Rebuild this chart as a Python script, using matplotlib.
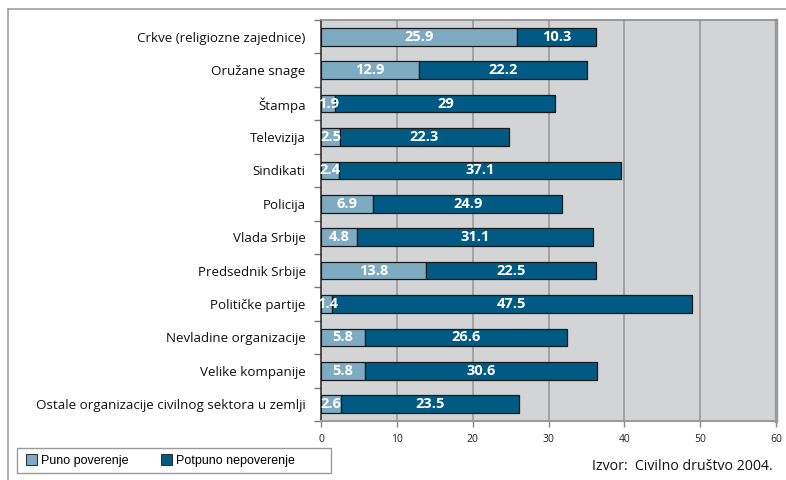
import matplotlib
matplotlib.use("Agg")
import matplotlib.pyplot as plt
import numpy as np
from matplotlib.patches import Patch, Rectangle

categories = ["Crkve (religiozne zajednice)", "Oružane snage", "Štampa", "Televizija",
              "Sindikati", "Policija", "Vlada Srbije", "Predsednik Srbije",
              "Političke partije", "Nevladine organizacije", "Velike kompanije",
              "Ostale organizacije civilnog sektora u zemlji"]
puno = [25.9, 12.9, 1.9, 2.5, 2.4, 6.9, 4.8, 13.8, 1.4, 5.8, 5.8, 2.6]
nepoverenje = [10.3, 22.2, 29, 22.3, 37.1, 24.9, 31.1, 22.5, 47.5, 26.6, 30.6, 23.5]
xticks = [0, 10, 20, 30, 40, 50, 60]
legend_labels = ["Puno poverenje", "Potpuno nepoverenje"]
source = "Izvor:  Civilno društvo 2004."

light = "#7eabc1"
dark = "#005a83"
grid_c = "#9a9a9c"

fig = plt.figure(figsize=(7.86, 4.8), dpi=100)
fig.patch.set_facecolor("white")
ax = fig.add_axes([321/786, 1-421/480, 455/786, 401/480])
ax.set_facecolor("#d3d4d6")

y = np.arange(len(categories))
h = 0.53
ax.barh(y, puno, height=h, color=light, edgecolor="#1a1a1a", linewidth=0.9, zorder=3)
ax.barh(y, nepoverenje, left=puno, height=h, color=dark, edgecolor="#1a1a1a", linewidth=0.9, zorder=3)

for i in range(len(categories)):
    ax.text(max(puno[i]/2, 0.9), y[i], f"{puno[i]:g}", ha="center", va="center", color="white",
            fontsize=10.5, fontweight="bold", family="Open Sans", zorder=4)
    ax.text(puno[i] + nepoverenje[i]/2, y[i], f"{nepoverenje[i]:g}", ha="center", va="center",
            color="white", fontsize=10.5, fontweight="bold", family="Open Sans", zorder=4)

ax.set_xlim(0, 60)
ax.set_ylim(len(categories)-0.5, -0.5)
ax.set_xticks(xticks)
ax.set_xticklabels([str(t) for t in xticks], fontsize=7.5, family="Open Sans", color="#222")
ax.set_yticks(y)
ax.set_yticklabels(categories, fontsize=9.6, family="Open Sans", color="#111")
ax.set_yticks(np.arange(-0.5, len(categories), 1), minor=True)
ax.tick_params(axis="y", which="major", length=0, pad=11)
ax.tick_params(axis="y", which="minor", length=5, width=1, color="#777", direction="out")
ax.tick_params(axis="x", which="major", length=4, width=1, color="#888", direction="out", pad=5)

for t in xticks[1:-1]:
    ax.axvline(t, color=grid_c, linewidth=1.2, zorder=1)

ax.spines["left"].set_color("#333")
ax.spines["left"].set_linewidth(1.2)
ax.spines["right"].set_color(grid_c)
ax.spines["right"].set_linewidth(2.5)
ax.spines["top"].set_color("#8a8a8c")
ax.spines["top"].set_linewidth(1.2)
ax.spines["bottom"].set_color(grid_c)
ax.spines["bottom"].set_linewidth(1.5)

# figure frame lines (top and left)
fig.add_artist(plt.Line2D([8/786, 1], [1-9/480, 1-9/480], color="#a0a0a0", linewidth=1.2, transform=fig.transFigure))
fig.add_artist(plt.Line2D([8/786, 8/786], [0, 1-9/480], color="#a0a0a0", linewidth=1.2, transform=fig.transFigure))

# legend box
fig.add_artist(Rectangle((17/786, 1-473/480), 314/786, 25/480, transform=fig.transFigure,
                         facecolor="white", edgecolor="#999", linewidth=1.0))
handles = [Patch(facecolor=light, edgecolor="#333", linewidth=0.8),
           Patch(facecolor=dark, edgecolor="#333", linewidth=0.8)]
leg = fig.legend(handles, legend_labels, loc="center left",
                 bbox_to_anchor=(22/786, 1-460.5/480),
                 ncol=2, frameon=False,
                 prop={"family": "Liberation Sans", "size": 9},
                 handlelength=0.9, handleheight=0.9, handletextpad=0.3,
                 columnspacing=2.6, borderaxespad=0, borderpad=0.3)

fig.text(773/786, 1-466/480, source, ha="right", va="center", fontsize=10.2,
         family="Open Sans", color="#111")

fig.savefig("out.png", dpi=100)
